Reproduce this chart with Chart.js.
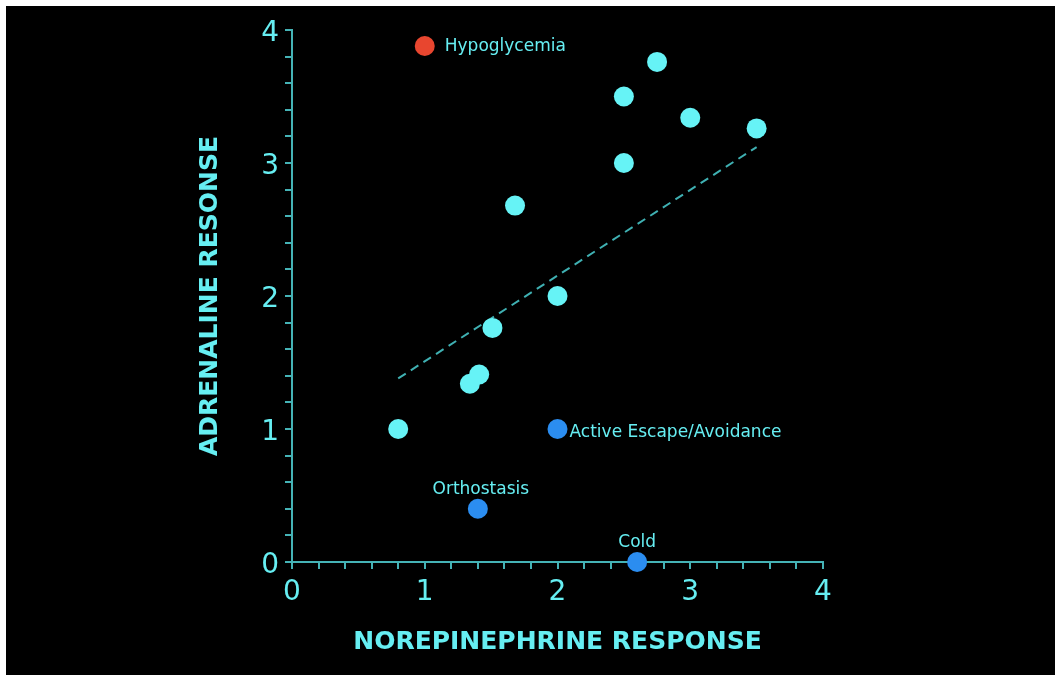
<!DOCTYPE html>
<html>
<head>
<meta charset="utf-8">
<script src="https://cdn.jsdelivr.net/npm/chart.js@4/dist/chart.umd.min.js"></script>
<style>
  body { margin: 0; background: #ffffff; }
  #wrap { position: absolute; left: 6px; top: 6px; width: 1049px; height: 669px; background: #000000; }
</style>
</head>
<body>
<div id="wrap"><canvas id="grafico" width="1049" height="669"></canvas></div>
<script>
// pontos em ciano
const resposta_nor = [0.8, 1.34, 1.41, 1.51, 1.68, 2.0, 2.5, 2.5, 2.75, 3.0, 3.5];
const resposta_adr = [1.0, 1.34, 1.41, 1.76, 2.68, 2.0, 3.0, 3.5, 3.76, 3.34, 3.26];

// pontos especiais
const hipo_x = [1.0];
const hipo_y = [3.88];
const estresse_nomes = ['Active Escape/Avoidance', 'Orthostasis', 'Cold'];
const estresse_x = [2.0, 1.4, 2.6];
const estresse_y = [1.0, 0.4, 0.0];

// linha de regressao
const regressao_x = [0.8, 3.5];
const regressao_y = [1.38, 3.12];

const ticks_eixo = [0, 1, 2, 3, 4];

const corTexto = '#66eef2';
const corEixo = '#45b3b6';
const fonte = '"DejaVu Sans", sans-serif';

function junta(xs, ys) {
    return xs.map((x, i) => ({x: x, y: ys[i]}));
}

const rotulos = {
    id: 'rotulos',
    afterDatasetsDraw(chart) {
        const ctx = chart.ctx;
        const sx = chart.scales.x;
        const sy = chart.scales.y;
        ctx.save();
        ctx.fillStyle = corTexto;
        ctx.font = '17px ' + fonte;
        ctx.textBaseline = 'middle';
        // Hypoglycemia
        ctx.textAlign = 'left';
        ctx.fillText('Hypoglycemia', sx.getPixelForValue(hipo_x[0]) + 20, sy.getPixelForValue(hipo_y[0]) + 1);
        // Active Escape/Avoidance
        ctx.fillText(estresse_nomes[0], sx.getPixelForValue(estresse_x[0]) + 12, sy.getPixelForValue(estresse_y[0]) + 4);
        // Orthostasis e Cold acima do ponto
        ctx.textAlign = 'center';
        ctx.fillText(estresse_nomes[1], sx.getPixelForValue(estresse_x[1]) + 3, sy.getPixelForValue(estresse_y[1]) - 19);
        ctx.fillText(estresse_nomes[2], sx.getPixelForValue(estresse_x[2]), sy.getPixelForValue(estresse_y[2]) - 19);
        ctx.restore();
    }
};

function tickInteiro(value) {
    const r = Math.round(value);
    if (Math.abs(value - r) < 1e-6 && ticks_eixo.includes(r)) return String(r);
    return '';
}

const ctx_grafico = document.getElementById('grafico');

new Chart(ctx_grafico, {
    type: 'scatter',
    data: {
        datasets: [{
            type: 'line',
            data: junta(regressao_x, regressao_y),
            borderColor: '#3fb0b2',
            borderWidth: 2,
            borderDash: [9, 6],
            pointRadius: 0,
            fill: false,
            order: 3
        }, {
            data: junta(resposta_nor, resposta_adr),
            backgroundColor: '#66f3f6',
            borderWidth: 0,
            pointRadius: 10,
            clip: false,
            order: 1
        }, {
            data: junta(hipo_x, hipo_y),
            backgroundColor: '#e8462f',
            borderWidth: 0,
            pointRadius: 10,
            clip: false,
            order: 1
        }, {
            data: junta(estresse_x, estresse_y),
            backgroundColor: '#2b8df0',
            borderWidth: 0,
            pointRadius: 10,
            clip: false,
            order: 1
        }]
    },
    options: {
        responsive: false,
        animation: false,
        events: [],
        layout: {
            padding: {left: 0, top: 24, right: 232, bottom: 0}
        },
        plugins: {
            legend: {display: false},
            tooltip: {enabled: false}
        },
        scales: {
            x: {
                type: 'linear',
                min: 0,
                max: 4,
                afterFit: function (scale) { scale.height = 113; },
                border: {display: true, color: corEixo, width: 2},
                grid: {display: true, drawOnChartArea: false, drawTicks: true, color: corEixo, tickLength: 7, lineWidth: 2},
                ticks: {
                    stepSize: 0.2,
                    autoSkip: false,
                    maxRotation: 0,
                    padding: 7,
                    color: corTexto,
                    font: {family: fonte, size: 28},
                    callback: tickInteiro
                },
                title: {
                    display: true,
                    text: 'NOREPINEPHRINE RESPONSE',
                    color: corTexto,
                    font: {family: fonte, size: 25, weight: 'bold'},
                    padding: {top: 0, bottom: 18}
                }
            },
            y: {
                type: 'linear',
                min: 0,
                max: 4,
                afterFit: function (scale) { scale.width = 286; },
                border: {display: true, color: corEixo, width: 2},
                grid: {display: true, drawOnChartArea: false, drawTicks: true, color: corEixo, tickLength: 7, lineWidth: 2},
                ticks: {
                    stepSize: 0.2,
                    autoSkip: false,
                    padding: 6,
                    labelOffset: 4,
                    color: corTexto,
                    font: {family: fonte, size: 28},
                    callback: tickInteiro
                },
                title: {
                    display: true,
                    text: 'ADRENALINE RESONSE',
                    color: corTexto,
                    font: {family: fonte, size: 25, weight: 'bold'},
                    padding: {top: 189, bottom: 0}
                }
            }
        }
    },
    plugins: [rotulos]
});
</script>
</body>
</html>
